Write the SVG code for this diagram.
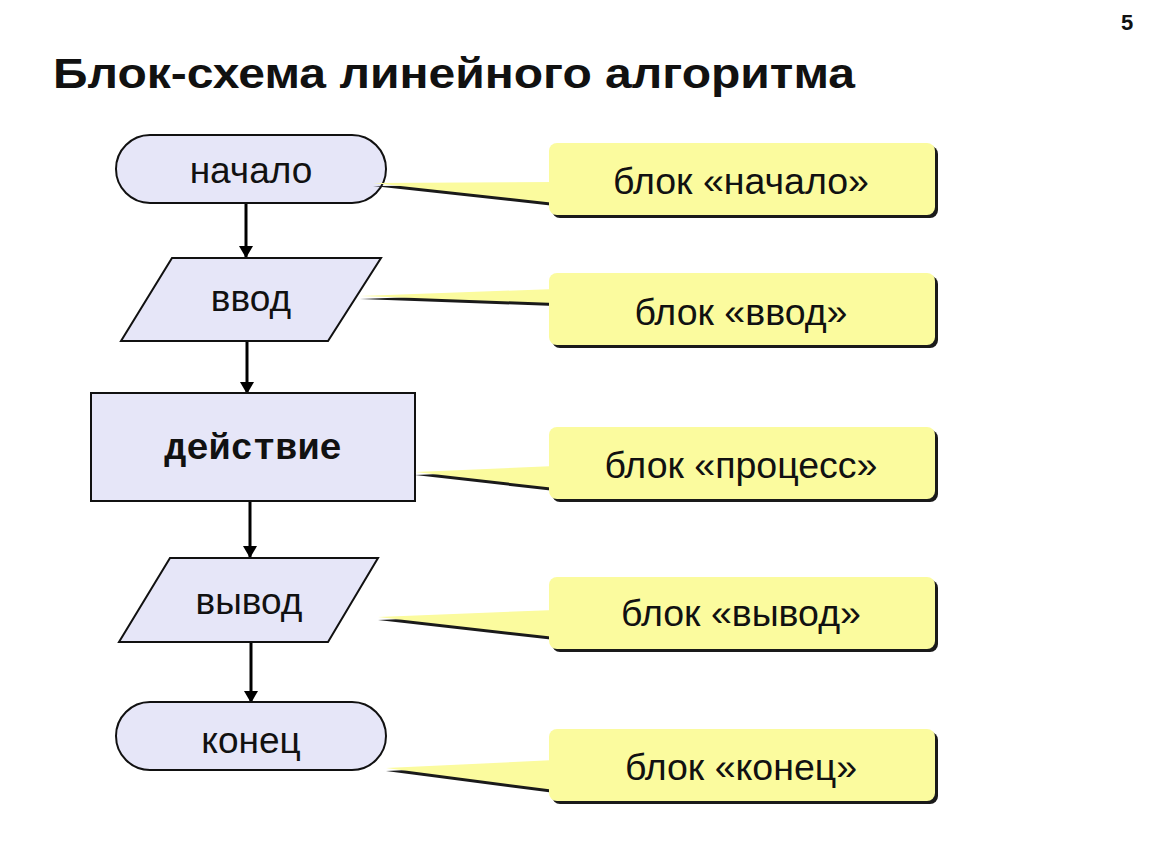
<svg xmlns="http://www.w3.org/2000/svg" width="1150" height="864" viewBox="0 0 1150 864">
<defs>
<style>
.node{fill:#E6E6F8;stroke:#111;stroke-width:2}
.lbl{font-family:"Liberation Sans",Arial,sans-serif;font-size:37px;fill:#111;text-anchor:middle}
.mono{font-family:"Liberation Mono","Courier New",monospace;font-size:37px;font-weight:bold;fill:#111;text-anchor:middle}
.cl{fill:#FBFB9E}
.sh{fill:#1a1a1a}
.ctext{font-family:"Liberation Sans",Arial,sans-serif;font-size:37.5px;fill:#111;text-anchor:middle}
.edge{stroke:#000;stroke-width:3;fill:none}
</style>
<marker id="ah" markerWidth="12" markerHeight="14" refX="11" refY="7" orient="auto" markerUnits="userSpaceOnUse" viewBox="0 0 12 14">
<path d="M0,0 L12,7 L0,14 z" fill="#000"/>
</marker>
</defs>
<rect width="1150" height="864" fill="#fff"/>
<text x="1127" y="30" font-family="Liberation Sans,Arial,sans-serif" font-weight="bold" font-size="22" text-anchor="middle" fill="#111">5</text>
<text x="53" y="88" font-family="Liberation Sans,Arial,sans-serif" font-weight="bold" font-size="42" fill="#111" textLength="802" lengthAdjust="spacingAndGlyphs">Блок-схема линейного алгоритма</text>

<g id="connectors">
<line class="edge" x1="246" y1="203" x2="246" y2="257" marker-end="url(#ah)"/>
<line class="edge" x1="247" y1="341" x2="247" y2="393" marker-end="url(#ah)"/>
<line class="edge" x1="250" y1="501" x2="250" y2="557" marker-end="url(#ah)"/>
<line class="edge" x1="251" y1="642" x2="251" y2="702" marker-end="url(#ah)"/>
</g>

<g id="n-start">
<rect class="node" x="116" y="135" width="270" height="68" rx="34"/>
<text class="lbl" x="251" y="183">начало</text>
</g>
<g id="n-input">
<polygon class="node" points="172,258 381,258 328,341 121,341"/>
<text class="lbl" x="251" y="311">ввод</text>
</g>
<g id="n-process">
<rect class="node" x="91" y="393" width="324" height="108"/>
<text class="mono" x="253" y="459">действие</text>
</g>
<g id="n-output">
<polygon class="node" points="170,558 378,558 328,642 119,642"/>
<text class="lbl" x="249" y="614">вывод</text>
</g>
<g id="n-end">
<rect class="node" x="116" y="702" width="270" height="68" rx="34"/>
<text class="lbl" x="251" y="753">конец</text>
</g>

<g id="c-start">
<polygon class="sh" points="373,186 555,185 555,206"/>
<rect class="sh" x="552" y="146" width="386" height="72" rx="8"/>
<polygon class="cl" points="373,183 555,182 555,203"/>
<rect class="cl" x="549" y="143" width="386" height="72" rx="8"/>
<text class="ctext" x="741" y="194">блок «начало»</text>
</g>
<g id="c-input">
<polygon class="sh" points="360,299 555,292 555,306"/>
<rect class="sh" x="552" y="276" width="386" height="72" rx="8"/>
<polygon class="cl" points="360,296 555,289 555,303"/>
<rect class="cl" x="549" y="273" width="386" height="72" rx="8"/>
<text class="ctext" x="741" y="325">блок «ввод»</text>
</g>
<g id="c-process">
<polygon class="sh" points="415,475 555,469 555,491"/>
<rect class="sh" x="552" y="430" width="386" height="72" rx="8"/>
<polygon class="cl" points="415,472 555,466 555,488"/>
<rect class="cl" x="549" y="427" width="386" height="72" rx="8"/>
<text class="ctext" x="741" y="478">блок «процесс»</text>
</g>
<g id="c-output">
<polygon class="sh" points="378,620 555,613 555,640"/>
<rect class="sh" x="552" y="580" width="386" height="72" rx="8"/>
<polygon class="cl" points="378,617 555,610 555,637"/>
<rect class="cl" x="549" y="577" width="386" height="72" rx="8"/>
<text class="ctext" x="741" y="626">блок «вывод»</text>
</g>
<g id="c-end">
<polygon class="sh" points="386,771 555,763 555,793"/>
<rect class="sh" x="552" y="732" width="386" height="72" rx="8"/>
<polygon class="cl" points="386,768 555,760 555,790"/>
<rect class="cl" x="549" y="729" width="386" height="72" rx="8"/>
<text class="ctext" x="741" y="780">блок «конец»</text>
</g>
</svg>
